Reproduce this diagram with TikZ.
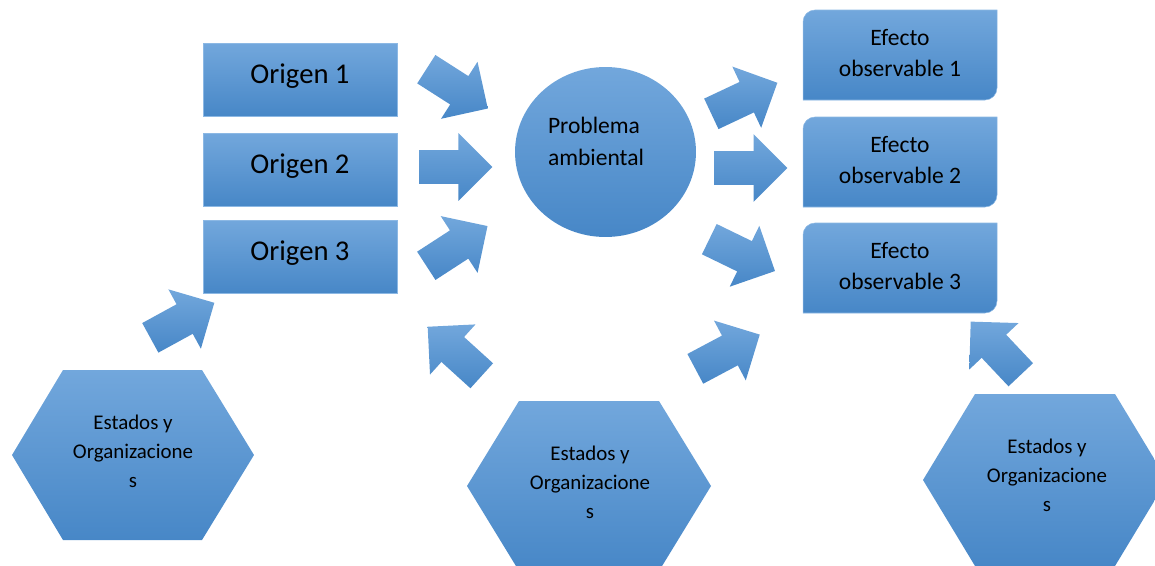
\documentclass[tikz,border=0pt]{standalone}
\usepackage{fontspec}
\setmainfont{Carlito}
\usepackage{xcolor}
\usepackage{tikz}
\usetikzlibrary{shapes.geometric, shapes.arrows}

\definecolor{boxtop}{RGB}{114,167,220}
\definecolor{boxbot}{RGB}{71,135,199}
\definecolor{boxedge}{RGB}{140,184,228}

\begin{document}
\begin{tikzpicture}[x=0.02cm, y=-0.02cm,
	bluefill/.style={top color=boxtop, bottom color=boxbot},
	origbox/.style={rectangle, bluefill, draw=boxedge, line width=0.3pt, minimum width=3.88cm, minimum height=1.46cm, inner sep=0pt, text height=0.7em, text depth=0.35em, font=\fontsize{16.3}{19}\selectfont},
	eftext/.style={align=center, inner sep=0pt, font=\fontsize{13.4}{17.6}\selectfont},
	hextext/.style={align=center, inner sep=0pt, font=\fontsize{11.9}{16.5}\selectfont},
	blockarrow/.style={single arrow, single arrow head extend=0.34cm, minimum height=1.46cm, inner xsep=0pt, inner ysep=0.33cm, bluefill, anchor=tail}]
	\clip (0,0) rectangle (1155,565);
	
	% origenes
	\node[origbox] (O1) at (300,80) {Origen 1};
	\node[origbox] (O2) at (300,170) {Origen 2};
	\node[origbox] (O3) at (300,257) {Origen 3};
	
	% problema ambiental
	\node[ellipse, bluefill, minimum width=3.62cm, minimum height=3.4cm, inner sep=0pt] (PA) at (605.5,152) {};
	\node[align=left, inner sep=0pt, font=\fontsize{13.4}{18.2}\selectfont] (PAtext) at (596,141) {Problema\\ambiental};
	
	% efectos observables
	\draw[bluefill, draw=boxedge, line width=0.3pt] (803,22) arc[start angle=180, end angle=270, radius=12] -- (997,10) -- (997,88) arc[start angle=0, end angle=90, radius=12] -- (803,100) -- cycle;
	\draw[bluefill, draw=boxedge, line width=0.3pt] (803,129) arc[start angle=180, end angle=270, radius=12] -- (997,117) -- (997,195) arc[start angle=0, end angle=90, radius=12] -- (803,207) -- cycle;
	\draw[bluefill, draw=boxedge, line width=0.3pt] (803,235) arc[start angle=180, end angle=270, radius=12] -- (997,223) -- (997,301) arc[start angle=0, end angle=90, radius=12] -- (803,313) -- cycle;
	\node[eftext] (E1) at (900,53) {Efecto\\observable 1};
	\node[eftext] (E2) at (900,160) {Efecto\\observable 2};
	\node[eftext] (E3) at (900,266) {Efecto\\observable 3};
	
	% estados y organizaciones
	\path[bluefill] (12,455) -- (63,370) -- (202,370) -- (254,455) -- (202,540) -- (63,540) -- cycle;
	\path[bluefill] (467,486) -- (519,401) -- (659,401) -- (711,486) -- (659,571) -- (519,571) -- cycle;
	\path[bluefill] (923,480) -- (975,394) -- (1115,394) -- (1167,480) -- (1115,566) -- (975,566) -- cycle;
	\node[hextext] (H1) at (133,451) {Estados y\\Organizacione\\s};
	\node[hextext] (H2) at (590,482) {Estados y\\Organizacione\\s};
	\node[hextext] (H3) at (1047,475) {Estados y\\Organizacione\\s};
	
	% flechas
	\node[blockarrow, rotate=-32.6] (A1) at (426,69) {};
	\node[blockarrow] (A2) at (419,167) {};
	\node[blockarrow, rotate=33] (A3) at (426,266) {};
	\node[blockarrow, rotate=25.2] (A4) at (711,114) {};
	\node[blockarrow] (A5) at (714,168) {};
	\node[blockarrow, rotate=-25.9] (A6) at (709,239) {};
	\node[blockarrow, rotate=28.7] (A7) at (150,338) {};
	\node[blockarrow, rotate=137.8] (A8) at (482,376) {};
	\node[blockarrow, rotate=28] (A9) at (695,369) {};
	\node[blockarrow, rotate=133.3] (A10) at (1021,375) {};
\end{tikzpicture}
\end{document}
